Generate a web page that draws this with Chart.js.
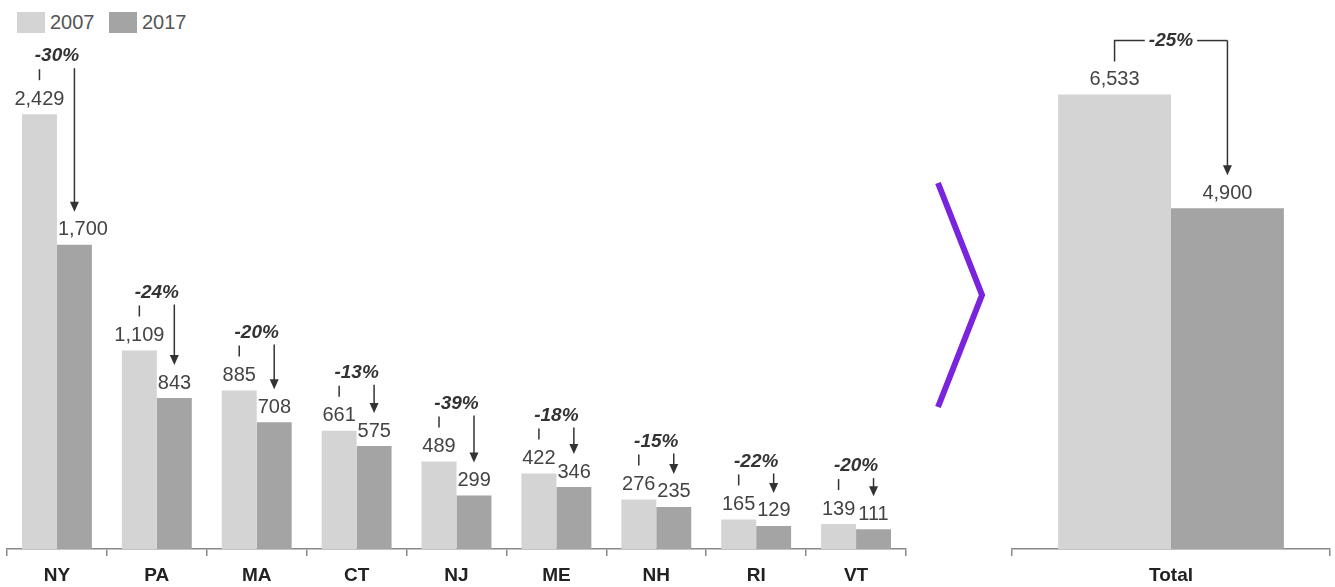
<!DOCTYPE html>
<html>
<head>
<meta charset="utf-8">
<script src="https://cdn.jsdelivr.net/npm/chart.js@4.4.1/dist/chart.umd.min.js"></script>
<style>
  html, body { margin: 0; padding: 0; background: #fff; }
  body { width: 1335px; height: 587px; position: relative; overflow: hidden; font-family: "Liberation Sans", Arial, sans-serif; }
  #left { position: absolute; left: 0; top: 0; }
  #right { position: absolute; left: 1000px; top: 0; }
  #chev { position: absolute; left: 0; top: 0; }
  .legend { position: absolute; top: 12px; height: 21px; line-height: 21px; font-size: 20px; color: #555; }
  .box { position: absolute; top: 12px; width: 28px; height: 21px; }
</style>
</head>
<body>
<div class="box" style="left:17px;background:#d4d4d4"></div>
<div class="legend" style="left:50px">2007</div>
<div class="box" style="left:109px;background:#a4a4a4"></div>
<div class="legend" style="left:142px">2017</div>
<canvas id="left" width="920" height="587"></canvas>
<canvas id="right" width="335" height="587"></canvas>
<svg id="chev" width="1335" height="587"><polyline points="938,183 982,295 938,407" fill="none" stroke="#7b24dd" stroke-width="6"/></svg>
<script>
const states = ['NY', 'PA', 'MA', 'CT', 'NJ', 'ME', 'NH', 'RI', 'VT'];
const values2007 = [2429, 1109, 885, 661, 489, 422, 276, 165, 139];
const values2017 = [1700, 843, 708, 575, 299, 346, 235, 129, 111];
const totalLabel = ['Total'];
const total2007 = [6533];
const total2017 = [4900];
const seriesNames = ['2007', '2017'];

const COLOR_07 = '#d4d4d4';
const COLOR_17 = '#a4a4a4';
const FONT = '"Liberation Sans", Arial, sans-serif';

const fmt = v => v.toLocaleString('en-US');

function arrowDown(ctx, x, y1, y2) {
  ctx.beginPath();
  ctx.moveTo(x, y1);
  ctx.lineTo(x, y2 - 8);
  ctx.stroke();
  ctx.beginPath();
  ctx.moveTo(x - 4.5, y2 - 10);
  ctx.lineTo(x + 4.5, y2 - 10);
  ctx.lineTo(x, y2);
  ctx.closePath();
  ctx.fill();
}

const annotate = {
  id: 'annotate',
  afterDatasetsDraw(chart, args, opts) {
    const ctx = chart.ctx;
    const m0 = chart.getDatasetMeta(0).data;
    const m1 = chart.getDatasetMeta(1).data;
    const d0 = chart.data.datasets[0].data;
    const d1 = chart.data.datasets[1].data;
    ctx.save();
    for (let i = 0; i < m0.length; i++) {
      const b0 = m0[i], b1 = m1[i];
      const v0 = d0[i], v1 = d1[i];
      const y0 = b0.y - 15, y1 = b1.y - 15;
      // value labels
      ctx.font = '20px ' + FONT;
      ctx.fillStyle = '#444';
      ctx.textBaseline = 'middle';
      ctx.textAlign = 'center';
      ctx.fillText(fmt(v0), b0.x, y0);
      const t1 = fmt(v1);
      const w1 = ctx.measureText(t1).width;
      const left1 = Math.max(b1.x - w1 / 2, b1.x - b1.width / 2 + 1);
      ctx.textAlign = 'left';
      ctx.fillText(t1, left1, y1);
      // percent
      const pct = Math.round((v1 - v0) / v0 * 100);
      const pctText = pct + '%';
      const cx = (b0.x + b1.x) / 2;
      ctx.strokeStyle = '#333';
      ctx.fillStyle = '#333';
      ctx.lineWidth = 1.5;
      ctx.font = 'italic bold 19px ' + FONT;
      ctx.textAlign = 'center';
      if (opts.style === 'bracket') {
        const ly = y0 - 39;
        const pw = ctx.measureText(pctText).width;
        ctx.fillText(pctText, cx, ly);
        ctx.beginPath();
        ctx.moveTo(b0.x, y0 - 18);
        ctx.lineTo(b0.x, ly);
        ctx.lineTo(cx - pw / 2 - 4, ly);
        ctx.stroke();
        ctx.beginPath();
        ctx.moveTo(cx + pw / 2 + 4, ly);
        ctx.lineTo(b1.x, ly);
        ctx.stroke();
        arrowDown(ctx, b1.x, ly, y1 - 18);
      } else {
        const py = y0 - 43;
        ctx.fillText(pctText, cx, py);
        ctx.beginPath();
        ctx.moveTo(b0.x, y0 - 30);
        ctx.lineTo(b0.x, y0 - 19);
        ctx.stroke();
        arrowDown(ctx, b1.x, py + 12, y1 - 18);
      }
    }
    ctx.restore();
  }
};

function makeChart(id, labels, a, b, max, catPct, style, padding) {
  return new Chart(document.getElementById(id), {
    type: 'bar',
    data: {
      labels: labels,
      datasets: [
        { label: seriesNames[0], data: a, backgroundColor: COLOR_07, barPercentage: 1, categoryPercentage: catPct },
        { label: seriesNames[1], data: b, backgroundColor: COLOR_17, barPercentage: 1, categoryPercentage: catPct }
      ]
    },
    options: {
      responsive: false,
      animation: false,
      devicePixelRatio: 1,
      layout: { padding: padding },
      plugins: { legend: { display: false }, tooltip: { enabled: false }, annotate: { style: style } },
      scales: {
        x: {
          afterFit(scale) { scale.height = 38; },
          grid: { offset: true, drawOnChartArea: false, drawTicks: true, tickLength: 7, color: '#888', lineWidth: 1.5 },
          border: { display: true, color: '#888', width: 1.5 },
          ticks: { color: '#222', padding: 8, font: { family: FONT, size: 19, weight: 'bold' } }
        },
        y: { display: false, min: 0, max: max }
      }
    },
    plugins: [annotate]
  });
}

makeChart('left', states, values2007, values2017, 3000, 0.7, 'split', { left: 7, right: 14, top: 12, bottom: 0 });
makeChart('right', totalLabel, total2007, total2017, 7720, 0.71, 'bracket', { left: 12, right: 5, top: 12, bottom: 0 });
</script>
</body>
</html>
